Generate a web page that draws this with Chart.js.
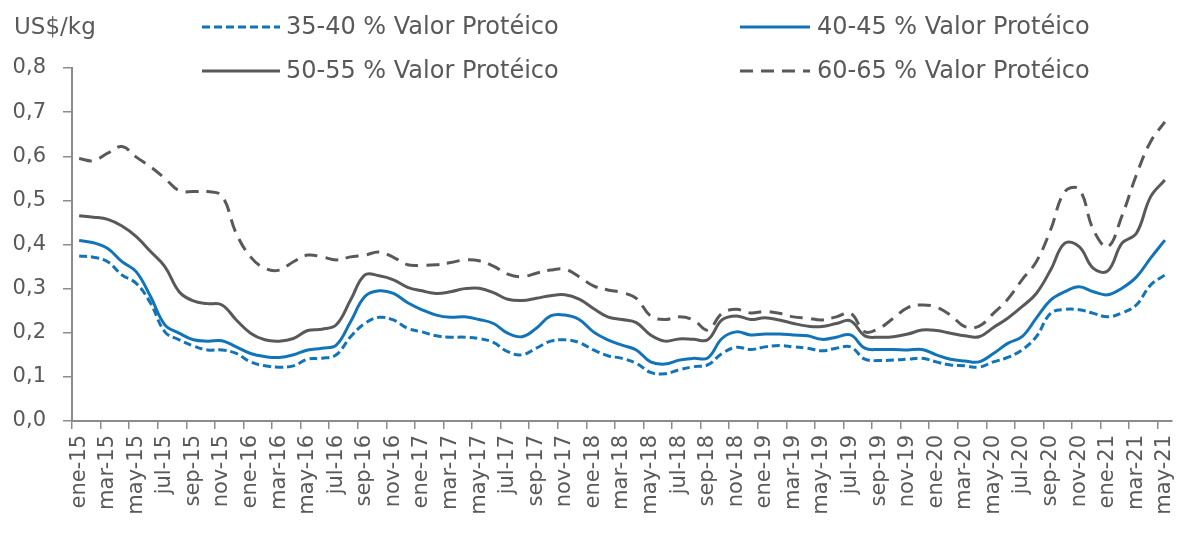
<!DOCTYPE html>
<html>
<head>
<meta charset="utf-8">
<script src="https://cdn.jsdelivr.net/npm/chart.js@4/dist/chart.umd.min.js"></script>
<style>
  body { margin: 0; background: #fff; }
  #wrap { width: 1179px; height: 534px; }
</style>
</head>
<body>
<div id="wrap"><canvas id="grafico" width="1179" height="534"></canvas></div>
<script>
const grafico = document.getElementById('grafico')

// meses ene-15 ... may-21
const meses = ['ene', 'feb', 'mar', 'abr', 'may', 'jun', 'jul', 'ago', 'sep', 'oct', 'nov', 'dic']
const anios = ['15', '16', '17', '18', '19', '20', '21']
const labels = []
for (const a of anios) {
    for (const m of meses) {
        if (a === '21' && labels.length >= 77) break
        labels.push(m + '-' + a)
    }
}
labels.length = 77

const valor3540 = [0.374, 0.371, 0.361, 0.331, 0.312, 0.267, 0.202, 0.184, 0.170, 0.161, 0.161, 0.153, 0.134, 0.125, 0.122, 0.125, 0.140, 0.142, 0.150, 0.191,
    0.221, 0.235, 0.229, 0.210, 0.202, 0.193, 0.190, 0.190, 0.187, 0.178, 0.157, 0.150, 0.165, 0.181, 0.184, 0.178, 0.161, 0.148, 0.142, 0.131,
    0.110, 0.107, 0.116, 0.123, 0.127, 0.153, 0.167, 0.162, 0.168, 0.171, 0.168, 0.165, 0.159, 0.165, 0.168, 0.140, 0.137, 0.138, 0.140, 0.142,
    0.134, 0.127, 0.125, 0.122, 0.134, 0.144, 0.161, 0.191, 0.244, 0.253, 0.252, 0.244, 0.236, 0.245, 0.263, 0.308, 0.331]

const valor4045 = [0.409, 0.404, 0.391, 0.361, 0.338, 0.282, 0.218, 0.199, 0.184, 0.181, 0.182, 0.168, 0.153, 0.146, 0.144, 0.150, 0.161, 0.165, 0.172, 0.225,
    0.282, 0.295, 0.289, 0.268, 0.252, 0.240, 0.235, 0.236, 0.230, 0.221, 0.199, 0.191, 0.210, 0.238, 0.240, 0.230, 0.202, 0.184, 0.172, 0.161,
    0.134, 0.129, 0.138, 0.142, 0.143, 0.187, 0.202, 0.195, 0.197, 0.197, 0.195, 0.193, 0.185, 0.190, 0.195, 0.165, 0.162, 0.162, 0.161, 0.162,
    0.150, 0.140, 0.136, 0.134, 0.153, 0.176, 0.191, 0.233, 0.274, 0.293, 0.304, 0.293, 0.286, 0.301, 0.326, 0.369, 0.410]

const valor5055 = [0.465, 0.462, 0.457, 0.442, 0.418, 0.384, 0.350, 0.293, 0.272, 0.266, 0.263, 0.229, 0.199, 0.184, 0.181, 0.187, 0.205, 0.208, 0.218, 0.274,
    0.331, 0.329, 0.320, 0.303, 0.295, 0.289, 0.293, 0.300, 0.301, 0.291, 0.276, 0.273, 0.278, 0.284, 0.286, 0.276, 0.255, 0.236, 0.230, 0.223,
    0.195, 0.181, 0.186, 0.185, 0.184, 0.229, 0.238, 0.230, 0.234, 0.229, 0.221, 0.215, 0.214, 0.221, 0.227, 0.193, 0.190, 0.191, 0.197, 0.206,
    0.205, 0.199, 0.193, 0.191, 0.212, 0.233, 0.259, 0.289, 0.342, 0.403, 0.395, 0.346, 0.340, 0.403, 0.425, 0.508, 0.546]

const valor6065 = [0.595, 0.590, 0.607, 0.622, 0.598, 0.576, 0.550, 0.522, 0.520, 0.520, 0.510, 0.425, 0.372, 0.346, 0.342, 0.361, 0.376, 0.372, 0.365, 0.372,
    0.376, 0.383, 0.371, 0.354, 0.353, 0.354, 0.359, 0.365, 0.363, 0.351, 0.333, 0.327, 0.335, 0.342, 0.344, 0.327, 0.306, 0.297, 0.291, 0.278,
    0.238, 0.230, 0.236, 0.229, 0.206, 0.244, 0.253, 0.245, 0.248, 0.244, 0.236, 0.233, 0.229, 0.236, 0.244, 0.202, 0.210, 0.233, 0.257, 0.263,
    0.258, 0.240, 0.214, 0.215, 0.244, 0.276, 0.320, 0.361, 0.433, 0.520, 0.525, 0.433, 0.395, 0.465, 0.557, 0.633, 0.678]

const azul = '#1274B8'
const gris = '#595959'
const ejeColor = '#8C8C8C'
const fuente = '"DejaVu Sans", sans-serif'

// leyenda dibujada dentro del area (como en Excel)
const leyenda = {
    id: 'leyenda',
    afterDraw(chart) {
        const ctx = chart.ctx
        const cols = [[202, 280, 286], [740, 810, 817]]
        const filas = [27, 71]
        ctx.save()
        ctx.textBaseline = 'middle'
        ctx.fillStyle = gris
        ctx.font = '23px ' + fuente
        ctx.fillText('US$/kg', 14, 28)
        ctx.font = '24px ' + fuente
        chart.data.datasets.forEach((ds, i) => {
            const c = cols[i % 2]
            const y = filas[Math.floor(i / 2)]
            ctx.strokeStyle = ds.borderColor
            ctx.lineWidth = ds.borderWidth
            ctx.setLineDash(ds.borderDash || [])
            ctx.beginPath()
            ctx.moveTo(c[0], y)
            ctx.lineTo(c[1], y)
            ctx.stroke()
            ctx.fillText(ds.label, c[2], y + 1)
        })
        ctx.restore()
    }
}

new Chart(grafico, {
    type: 'line',
    data: {
        labels: labels,
        datasets: [{
            label: '35-40 % Valor Protéico',
            data: valor3540,
            borderColor: azul,
            borderWidth: 3,
            borderDash: [8, 4]
        },
        {
            label: '40-45 % Valor Protéico',
            data: valor4045,
            borderColor: azul,
            borderWidth: 3
        },
        {
            label: '50-55 % Valor Protéico',
            data: valor5055,
            borderColor: gris,
            borderWidth: 3
        },
        {
            label: '60-65 % Valor Protéico',
            data: valor6065,
            borderColor: gris,
            borderWidth: 3,
            borderDash: [13, 8]
        }]
    },
    options: {
        responsive: false,
        animation: false,
        layout: { padding: { top: 68, right: 7, left: 0, bottom: 0 } },
        elements: {
            point: { radius: 0 },
            line: { tension: 0.4, fill: false }
        },
        plugins: {
            legend: { display: false },
            tooltip: { enabled: false }
        },
        scales: {
            x: {
                offset: true,
                grid: {
                    offset: true,
                    drawOnChartArea: false,
                    tickLength: 8,
                    lineWidth: 1.5,
                    tickColor: (c) => c.index % 2 === 0 ? ejeColor : 'rgba(0,0,0,0)'
                },
                border: { color: ejeColor, width: 2 },
                ticks: {
                    autoSkip: false,
                    maxRotation: 90,
                    minRotation: 90,
                    padding: 6,
                    color: gris,
                    font: { family: fuente, size: 21 },
                    callback: function (v, i) {
                        return i % 2 === 0 ? this.getLabelForValue(v) : ''
                    }
                },
                afterFit: (s) => {
                    s.height = 113
                    s.paddingLeft = 0
                    s.paddingRight = 0
                }
            },
            y: {
                min: 0,
                max: 0.8,
                grid: {
                    drawOnChartArea: false,
                    tickLength: 9,
                    lineWidth: 1.5,
                    tickColor: ejeColor
                },
                border: { color: ejeColor, width: 2 },
                ticks: {
                    stepSize: 0.1,
                    padding: 17,
                    color: gris,
                    font: { family: fuente, size: 21 },
                    callback: (v) => v.toFixed(1).replace('.', ',')
                },
                afterFit: (s) => { s.width = 72 }
            }
        }
    },
    plugins: [leyenda]
});
</script>
</body>
</html>
